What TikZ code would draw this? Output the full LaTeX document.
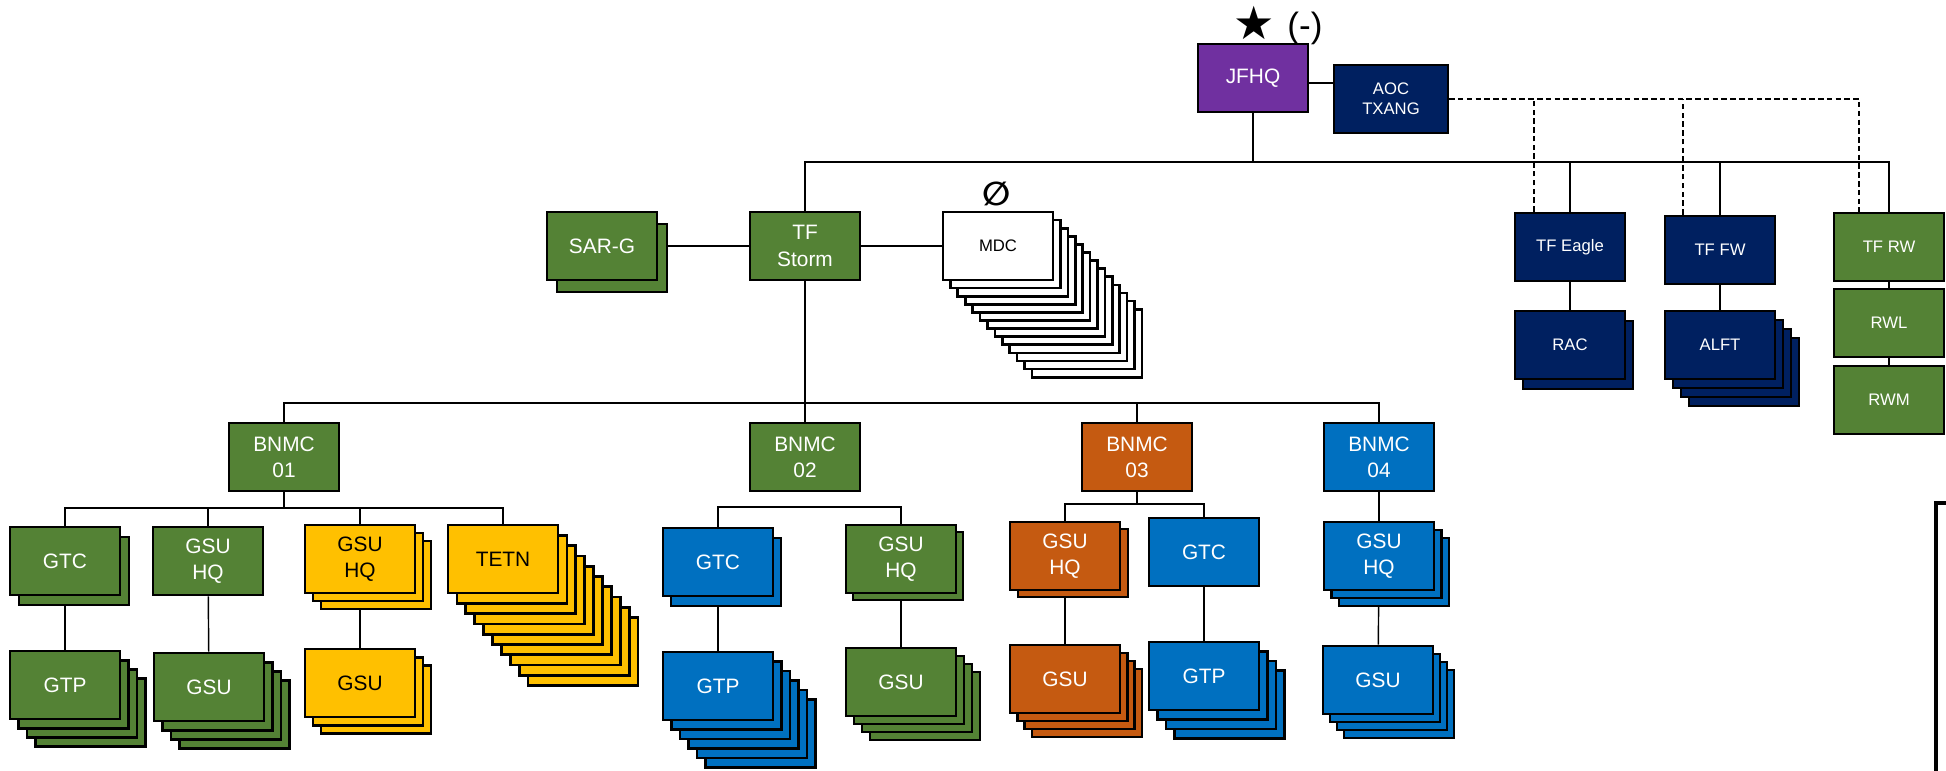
\documentclass[tikz,border=0pt]{standalone}
\usepackage{fontspec}
\setmainfont{Liberation Sans}
\newfontfamily\symfont{DejaVu Sans}
\usepackage{xcolor}
\usepackage{tikz}
\usetikzlibrary{calc,backgrounds}

\definecolor{armygreen}{HTML}{548235}
\definecolor{jfhqpurple}{HTML}{7030A0}
\definecolor{airnavy}{HTML}{002060}
\definecolor{bnorange}{HTML}{C55A11}
\definecolor{bnblue}{HTML}{0070C0}
\definecolor{bnyellow}{HTML}{FFC000}

% stacked unit: name, centre, colour, copies behind, step, label
\newcommand{\unitstack}[6]{%
  \foreach \i in {#4,...,1}
    \draw[stackbox,#3] ($(#2)+\i*(#5)+(-55,-34)$) rectangle ($(#2)+\i*(#5)+(55,34)$);
  \node[unitbox,#3] (#1) at (#2) {#6};
}

\begin{document}
\begin{tikzpicture}[x=0.016cm,y=-0.016cm,
    unitbox/.style={draw,line width=1.2pt,minimum width=1.76cm,minimum height=1.09cm,inner sep=1pt,align=center,font=\fontsize{9.5}{12}\selectfont},
    stackbox/.style={draw,line width=1.2pt},
    smalltext/.style={font=\fontsize{7.6}{9}\selectfont},
    greenunit/.style={fill=armygreen,text=white},
    purpleunit/.style={fill=jfhqpurple,text=white},
    navyunit/.style={fill=airnavy,text=white},
    orangeunit/.style={fill=bnorange,text=white},
    blueunit/.style={fill=bnblue,text=white},
    yellowunit/.style={fill=bnyellow,text=black},
    whiteunit/.style={fill=white,text=black},
    conn/.style={line width=0.65pt},
    liaison/.style={line width=0.65pt,dash pattern=on 2.5pt off 1.5pt}]
    \useasboundingbox (0,0) rectangle (1946,771);

    % Headquarters
    \node[unitbox,purpleunit] (jfhq) at (1253,78) {JFHQ};
    \node[font=\symfont\fontsize{21}{21}\selectfont] (star) at (1254,23) {★};
    \node[font=\fontsize{16}{16}\selectfont] (minus) at (1305,28) {(-)};
    \node[unitbox,navyunit,smalltext,minimum width=1.82cm] (aoc) at (1391,99) {AOC\\TXANG};

    % TF Storm row
    \unitstack{sarg}{602,246}{greenunit}{1}{10,12}{SAR-G}
    \node[unitbox,greenunit] (storm) at (805,246) {TF\\Storm};
    \unitstack{mdc}{998,246}{whiteunit,smalltext}{12}{7.4,8.1}{MDC}
    \node[font=\symfont\bfseries\fontsize{15}{15}\selectfont] (nomdc) at (997,194) {∅};

    % Air task forces
    \node[unitbox,navyunit,smalltext] (eagle) at (1570,247) {TF Eagle};
    \node[unitbox,navyunit,smalltext] (fw) at (1720,250) {TF FW};
    \node[unitbox,greenunit,smalltext] (rw) at (1889,247) {TF RW};
    \unitstack{rac}{1570,345}{navyunit,smalltext}{1}{8,10}{RAC}
    \unitstack{alft}{1720,345}{navyunit,smalltext}{3}{8,9}{ALFT}
    \node[unitbox,greenunit,smalltext] (rwl) at (1889,323) {RWL};
    \node[unitbox,greenunit,smalltext] (rwm) at (1889,400) {RWM};

    % Battalions
    \node[unitbox,greenunit] (bn1) at (284,457) {BNMC\\01};
    \node[unitbox,greenunit] (bn2) at (805,457) {BNMC\\02};
    \node[unitbox,orangeunit] (bn3) at (1137,457) {BNMC\\03};
    \node[unitbox,blueunit] (bn4) at (1379,457) {BNMC\\04};

    % BNMC 01
    \unitstack{bn1gtc}{65,561}{greenunit}{1}{9,10}{GTC}
    \node[unitbox,greenunit] (bn1hq) at (208,561) {GSU\\HQ};
    \unitstack{bn1yhq}{360,559}{yellowunit}{2}{8,8}{GSU\\HQ}
    \unitstack{bn1tetn}{503,559}{yellowunit}{9}{8.9,10.3}{TETN}
    \unitstack{bn1gtp}{65,685}{greenunit}{3}{8.5,9.2}{GTP}
    \unitstack{bn1gsu}{209,687}{greenunit}{3}{8.5,9.2}{GSU}
    \unitstack{bn1ygsu}{360,683}{yellowunit}{2}{8,8.3}{GSU}

    % BNMC 02
    \unitstack{bn2gtc}{718,562}{blueunit}{1}{8,10}{GTC}
    \unitstack{bn2hq}{901,559}{greenunit}{1}{7,7}{GSU\\HQ}
    \unitstack{bn2gtp}{718,686}{blueunit}{5}{8.5,9.5}{GTP}
    \unitstack{bn2gsu}{901,682}{greenunit}{3}{8,8}{GSU}

    % BNMC 03
    \unitstack{bn3hq}{1065,556}{orangeunit}{1}{8,7}{GSU\\HQ}
    \node[unitbox,blueunit] (bn3gtc) at (1204,552) {GTC};
    \unitstack{bn3gsu}{1065,679}{orangeunit}{3}{7.3,8}{GSU}
    \unitstack{bn3gtp}{1204,676}{blueunit}{3}{8.5,9.5}{GTP}

    % BNMC 04
    \unitstack{bn4hq}{1379,556}{blueunit}{2}{7.5,8}{GSU\\HQ}
    \unitstack{bn4gsu}{1378,680}{blueunit}{3}{7,8}{GSU}

    % Lines
    \begin{scope}[on background layer]
        \coordinate (busa) at (0,162);
        \coordinate (busb) at (0,403);
        \coordinate (j1) at ($(jfhq.center)+(0,5)$);
        \draw[conn] (j1) -- (j1 -| aoc.center);
        \draw[conn] (jfhq.center) -- (jfhq.center |- busa);
        \draw[conn] (storm.center) |- (rw.center |- busa) -- (rw.center);
        \draw[conn] (eagle.center) -- (eagle.center |- busa);
        \draw[conn] (fw.center) -- (fw.center |- busa);
        \draw[conn] (sarg.center) -- (mdc.center);
        \draw[conn] (storm.center) -- (bn2.center);
        \draw[conn] (bn1.center) |- (bn4.center |- busb) -- (bn4.center);
        \draw[conn] (bn3.center) -- (bn3.center |- busb);
        \draw[conn] (eagle) -- (rac);
        \draw[conn] (fw) -- (alft);
        \draw[conn] (rw) -- (rwm);

        % battalion children
        \coordinate (busc) at (0,508);
        \draw[conn] (bn1.center) -- (bn1.center |- busc);
        \draw[conn] (bn1gtc.center) |- (bn1tetn.center |- busc) -- (bn1tetn.center);
        \draw[conn] (bn1hq.center) -- (bn1hq.center |- busc);
        \draw[conn] (bn1yhq.center) -- (bn1yhq.center |- busc);
        \draw[conn] (bn1gtc) -- (bn1gtp);
        \draw[conn] (bn1hq) -- (bn1gsu);
        \draw[conn] (bn1yhq) -- (bn1ygsu);

        \coordinate (busd) at (0,507);
        \draw[conn] (bn2gtc.center) |- (bn2hq.center |- busd) -- (bn2hq.center);
        \draw[conn] (bn2gtc) -- (bn2gtp);
        \draw[conn] (bn2hq) -- (bn2gsu);

        \coordinate (buse) at (0,504);
        \draw[conn] (bn3.center) -- (bn3.center |- buse);
        \draw[conn] (bn3hq.center) |- (bn3gtc.center |- buse) -- (bn3gtc.center);
        \draw[conn] (bn3hq) -- (bn3gsu);
        \draw[conn] (bn3gtc) -- (bn3gtp);

        \draw[conn] (bn4) -- (bn4hq);
        \draw[conn] (bn4hq) -- (bn4gsu);
    \end{scope}

    % AOC liaison
    \coordinate (e1) at ($(eagle.north)+(-36,0)$);
    \coordinate (f1) at ($(fw.north)+(-37,0)$);
    \draw[liaison] (aoc.east) -| ($(rw.north)+(-30,0)$);
    \draw[liaison] (e1) -- (e1 |- aoc.east);
    \draw[liaison] (f1) -- (f1 |- aoc.east);

    % cut box at the edge
    \draw[line width=1.8pt] (1946,503) -- (1936,503) -- (1936,771);
\end{tikzpicture}
\end{document}
